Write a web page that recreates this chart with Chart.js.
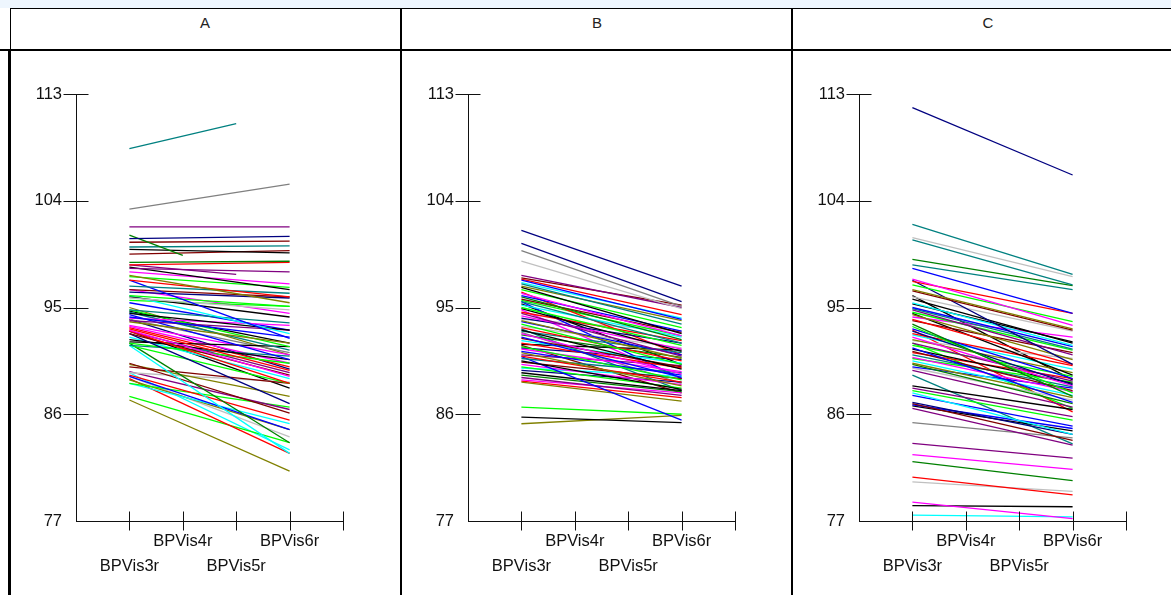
<!DOCTYPE html>
<html>
<head>
<meta charset="utf-8">
<script src="https://cdn.jsdelivr.net/npm/chart.js@4.4.0/dist/chart.umd.min.js"></script>
<style>
  body { margin: 0; width: 1171px; height: 595px; overflow: hidden; background: #fff; position: relative; font-family: "Liberation Sans", Arial, sans-serif; }
  .strip { position: absolute; left: 0; top: 0; width: 1171px; height: 8px; background: #eef6fe; }
  .rule { position: absolute; background: #000; }
  .head { position: absolute; top: 9px; height: 40px; width: 390px; text-align: center; line-height: 28px; font-size: 15px; color: #222; }
  .panel { position: absolute; top: 52px; width: 390px; height: 543px; }
</style>
</head>
<body>
<div class="strip"></div>
<!-- header row and panel frames -->
<div class="rule" style="left:10px;top:8px;width:1161px;height:1px"></div>
<div class="rule" style="left:10px;top:8px;width:1px;height:42px"></div>
<div class="rule" style="left:0;top:49px;width:1171px;height:2px"></div>
<div class="rule" style="left:8px;top:50px;width:3px;height:545px"></div>
<div class="rule" style="left:400px;top:8px;width:2px;height:587px"></div>
<div class="rule" style="left:791px;top:8px;width:2px;height:587px"></div>
<div class="head" style="left:10px">A</div>
<div class="head" style="left:402px">B</div>
<div class="head" style="left:793px">C</div>
<div class="panel" style="left:10px"><canvas id="chartA" width="390" height="543"></canvas></div>
<div class="panel" style="left:402px"><canvas id="chartB" width="390" height="543"></canvas></div>
<div class="panel" style="left:793px"><canvas id="chartC" width="390" height="543"></canvas></div>
<script>
const visits = ['BPVis3r', 'BPVis4r', 'BPVis5r', 'BPVis6r'];
const yTicks = [77, 86, 95, 104, 113];

// group A: value at BPVis3r and at the last visit of each subject
const aFirst = [108.4, 103.3, 101.8, 100.8, 101.1, 100.5, 100.1, 99.9, 99.5, 98.8, 98.6, 98.6, 98.3, 98.4, 98.0,
  97.7, 97.6, 97.3, 96.8, 97.3, 96.5, 96.3, 96.0, 95.8, 95.9, 96.0, 94.8, 94.5, 94.2, 94.1, 93.9, 93.8, 94.6,
  94.8, 94.4, 93.2, 93.1, 93.0, 92.8, 92.8, 92.3, 92.0, 91.8, 91.8, 91.8, 92.0, 92.1, 90.3, 90.0, 90.2, 89.5,
  89.6, 89.2, 89.3, 88.6, 88.6, 88.9, 89.0, 87.5, 87.2, 89.2, 93.4, 95.4, 95.6, 94.7, 93.5, 93.3, 92.5, 93.0,
  94.0, 96.5, 94.0, 95.0, 93.0, 89.5];
const aLast = [110.5, 105.4, 101.8, 101.0, 99.4, 100.6, 100.2, 99.6, 99.8, 98.9, 98.8, 97.8, 98.0, 96.5, 97.0,
  95.4, 96.7, 95.9, 96.2, 92.4, 95.9, 95.8, 95.1, 94.8, 94.2, 92.8, 93.7, 93.1, 92.5, 93.5, 93.1, 92.0, 91.4,
  91.7, 90.6, 89.7, 89.2, 88.6, 89.3, 86.9, 90.6, 90.3, 90.9, 82.7, 88.6, 83.6, 91.7, 86.1, 88.6, 87.5, 88.7,
  86.4, 84.7, 85.5, 86.6, 85.2, 84.7, 82.7, 83.6, 81.2, 84.1, 90.3, 93.1, 95.1, 92.0, 91.0, 90.0, 89.0, 89.5,
  91.2, 94.5, 89.8, 91.0, 88.2, 83.0];
const aEarlyEnd = { 0: 2, 4: 1, 11: 2 }; // subjects whose last visit is before BPVis6r
const aColors = 'typndwtkwdrppkmogrtbwngskctkbmpotgbrmrwnkgtcgdkwwospbrgcorgosmbgkmrcpymnokc';

// group B
const bFirst = [101.5, 100.4, 99.8, 98.9, 97.7, 97.5, 97.3, 97.4, 97.0, 97.1, 96.8, 96.7, 96.5, 96.2, 96.0,
  95.9, 95.7, 95.5, 95.2, 95.0, 94.9, 94.6, 94.5, 94.3, 94.1, 93.9, 93.8, 93.6, 93.4, 93.3, 93.1, 93.0, 92.8,
  92.7, 92.5, 92.4, 92.2, 92.0, 91.9, 91.7, 91.6, 91.5, 91.3, 91.2, 91.0, 90.9, 90.7, 90.5, 90.85, 90.4, 90.2,
  90.0, 89.9, 89.7, 89.5, 89.3, 89.1, 88.9, 88.7, 88.8, 86.6, 85.75, 85.2, 95.5, 96.3, 95.3, 94.8, 95.6, 93.2,
  94.0, 92.9, 91.8];
const bLast = [96.8, 95.5, 95.1, 94.9, 95.0, 95.2, 94.0, 94.4, 93.6, 94.1, 93.9, 92.8, 93.3, 92.6, 93.0,
  92.3, 92.9, 92.0, 92.5, 91.8, 91.3, 92.2, 90.9, 91.5, 92.0, 90.7, 91.0, 90.2, 91.6, 90.5, 89.8, 91.2, 89.4,
  90.8, 89.1, 90.0, 90.3, 89.9, 91.4, 88.9, 90.6, 89.6, 89.3, 88.4, 90.1, 88.7, 89.5, 88.1, 85.5, 89.0, 88.5,
  88.2, 89.2, 88.7, 88.0, 87.9, 87.6, 87.8, 87.1, 87.4, 86.0, 85.3, 85.9, 89.0, 91.0, 90.2, 89.0, 92.6, 88.0,
  93.0, 88.6, 87.8];
const bColors = 'nnyspwbrtcokgmbdwtcgkrpmnobgsrktmdbwcrkgnmboprtkbwmgcnkdpmorgkobrkmgtsyw';

// group C
const cFirst = [111.85, 102.0, 100.9, 100.7, 99.06, 98.6, 98.3, 97.4, 97.2, 96.9, 96.5, 96.4, 97.3, 95.7, 95.9,
  95.4, 95.0, 95.3, 94.9, 94.8, 94.6, 94.4, 94.2, 94.0, 93.9, 94.5, 93.6, 93.4, 93.2, 93.0, 92.8, 92.7, 92.5,
  92.3, 92.2, 92.0, 91.8, 91.6, 91.5, 91.3, 91.2, 91.0, 90.8, 90.7, 90.5, 90.3, 90.2, 90.0, 89.9, 89.7, 88.4,
  88.2, 88.0, 87.8, 87.6, 87.0, 86.9, 86.8, 86.5, 86.7, 85.3, 83.55, 82.6, 82.0, 80.7, 80.3, 78.6, 78.3, 77.5,
  96.0, 92.0, 93.1, 89.3];
const cLast = [106.17, 97.8, 97.6, 96.9, 96.84, 96.5, 94.5, 93.5, 94.5, 93.8, 93.2, 93.1, 90.2, 92.0, 93.0,
  91.8, 91.7, 92.1, 91.5, 91.0, 91.4, 90.6, 92.5, 90.2, 91.2, 89.3, 87.5, 87.8, 89.0, 88.5, 90.1, 89.8, 88.4,
  89.5, 90.7, 88.8, 89.2, 87.0, 88.6, 88.0, 89.0, 88.3, 87.9, 88.7, 87.6, 87.4, 86.9, 88.2, 87.2, 86.6, 86.4,
  85.8, 85.5, 84.3, 85.0, 84.3, 83.8, 84.8, 83.4, 84.6, 84.0, 82.3, 81.35, 80.4, 79.2, 79.5, 77.2, 78.2, 77.35,
  88.9, 86.5, 86.2, 83.5];
const cColors = 'ntstdtbmrgownkscbktpgomrwkdgbnrcmospgbkwrtmgcodbspkpgcbnwbpkypmdrsmkckgrt';

const palette = {
  k: '#000000', r: '#ff0000', g: '#00ff00', b: '#0000ff', m: '#ff00ff', c: '#00ffff', o: '#808000',
  y: '#808080', n: '#000080', w: '#800000', p: '#800080', t: '#008080', d: '#008000', s: '#c0c0c0'
};
const axisColor = '#111';
const fontFamily = '"Liberation Sans", Arial, sans-serif';

// tick marks that cross the axis lines, like the original plot
const crossTicks = {
  id: 'crossTicks',
  afterDraw(chart) {
    const { ctx, scales: { x, y } } = chart;
    const ax = Math.round(x.getPixelForValue(-1)) + 0.5;
    const ay = Math.round(y.getPixelForValue(77)) + 0.5;
    ctx.save();
    ctx.strokeStyle = axisColor;
    ctx.lineWidth = 1;
    ctx.beginPath();
    y.ticks.forEach(t => {
      if (t.value === 77) return;
      const py = Math.round(y.getPixelForValue(t.value)) + 0.5;
      ctx.moveTo(ax - 13, py);
      ctx.lineTo(ax + 12, py);
    });
    x.ticks.forEach(t => {
      if (t.value < 0) return;
      const px = Math.round(x.getPixelForValue(t.value)) + 0.5;
      ctx.moveTo(px, ay - 10);
      ctx.lineTo(px, ay + 9);
    });
    ctx.stroke();
    ctx.restore();
  }
};

function buildDatasets(first, last, earlyEnd, colors) {
  return first.map((v, i) => ({
    data: [{ x: 0, y: v }, { x: earlyEnd[i] !== undefined ? earlyEnd[i] : visits.length - 1, y: last[i] }],
    borderColor: palette[colors[i % colors.length]] || '#000',
    borderWidth: 1.3,
    pointRadius: 0,
    fill: false,
    tension: 0
  }));
}

function renderPanel(id, first, last, earlyEnd, colors) {
  const ctx = document.getElementById(id).getContext('2d');
  return new Chart(ctx, {
    type: 'line',
    data: { datasets: buildDatasets(first, last, earlyEnd, colors) },
    options: {
      responsive: false,
      animation: false,
      events: [],
      layout: { padding: { top: 42, right: 57, left: 0, bottom: 0 } },
      plugins: { legend: { display: false }, tooltip: { enabled: false } },
      scales: {
        x: {
          type: 'linear',
          min: -1,
          max: 4,
          afterFit: scale => { scale.height = 74; },
          border: { display: true, color: axisColor, width: 1 },
          grid: { display: false, drawTicks: false },
          ticks: {
            stepSize: 1,
            autoSkip: false,
            maxRotation: 0,
            padding: 8,
            color: '#111',
            font: { family: fontFamily, size: 16.5, lineHeight: '25px' },
            // staggered labels: BPVis3r / BPVis5r on the lower row
            callback: value => {
              const label = visits[value];
              if (!label) return '';
              return value % 2 === 0 ? ['', label] : label;
            }
          }
        },
        y: {
          type: 'linear',
          min: yTicks[0],
          max: yTicks[yTicks.length - 1],
          afterFit: scale => { scale.width = 66; },
          afterBuildTicks: scale => { scale.ticks = yTicks.map(v => ({ value: v })); },
          border: { display: true, color: axisColor, width: 1 },
          grid: { display: false, drawTicks: false },
          ticks: {
            padding: 14,
            color: '#111',
            font: { family: fontFamily, size: 16.5 }
          }
        }
      }
    },
    plugins: [crossTicks]
  });
}

renderPanel('chartA', aFirst, aLast, aEarlyEnd, aColors);
renderPanel('chartB', bFirst, bLast, {}, bColors);
renderPanel('chartC', cFirst, cLast, {}, cColors);
</script>
</body>
</html>
